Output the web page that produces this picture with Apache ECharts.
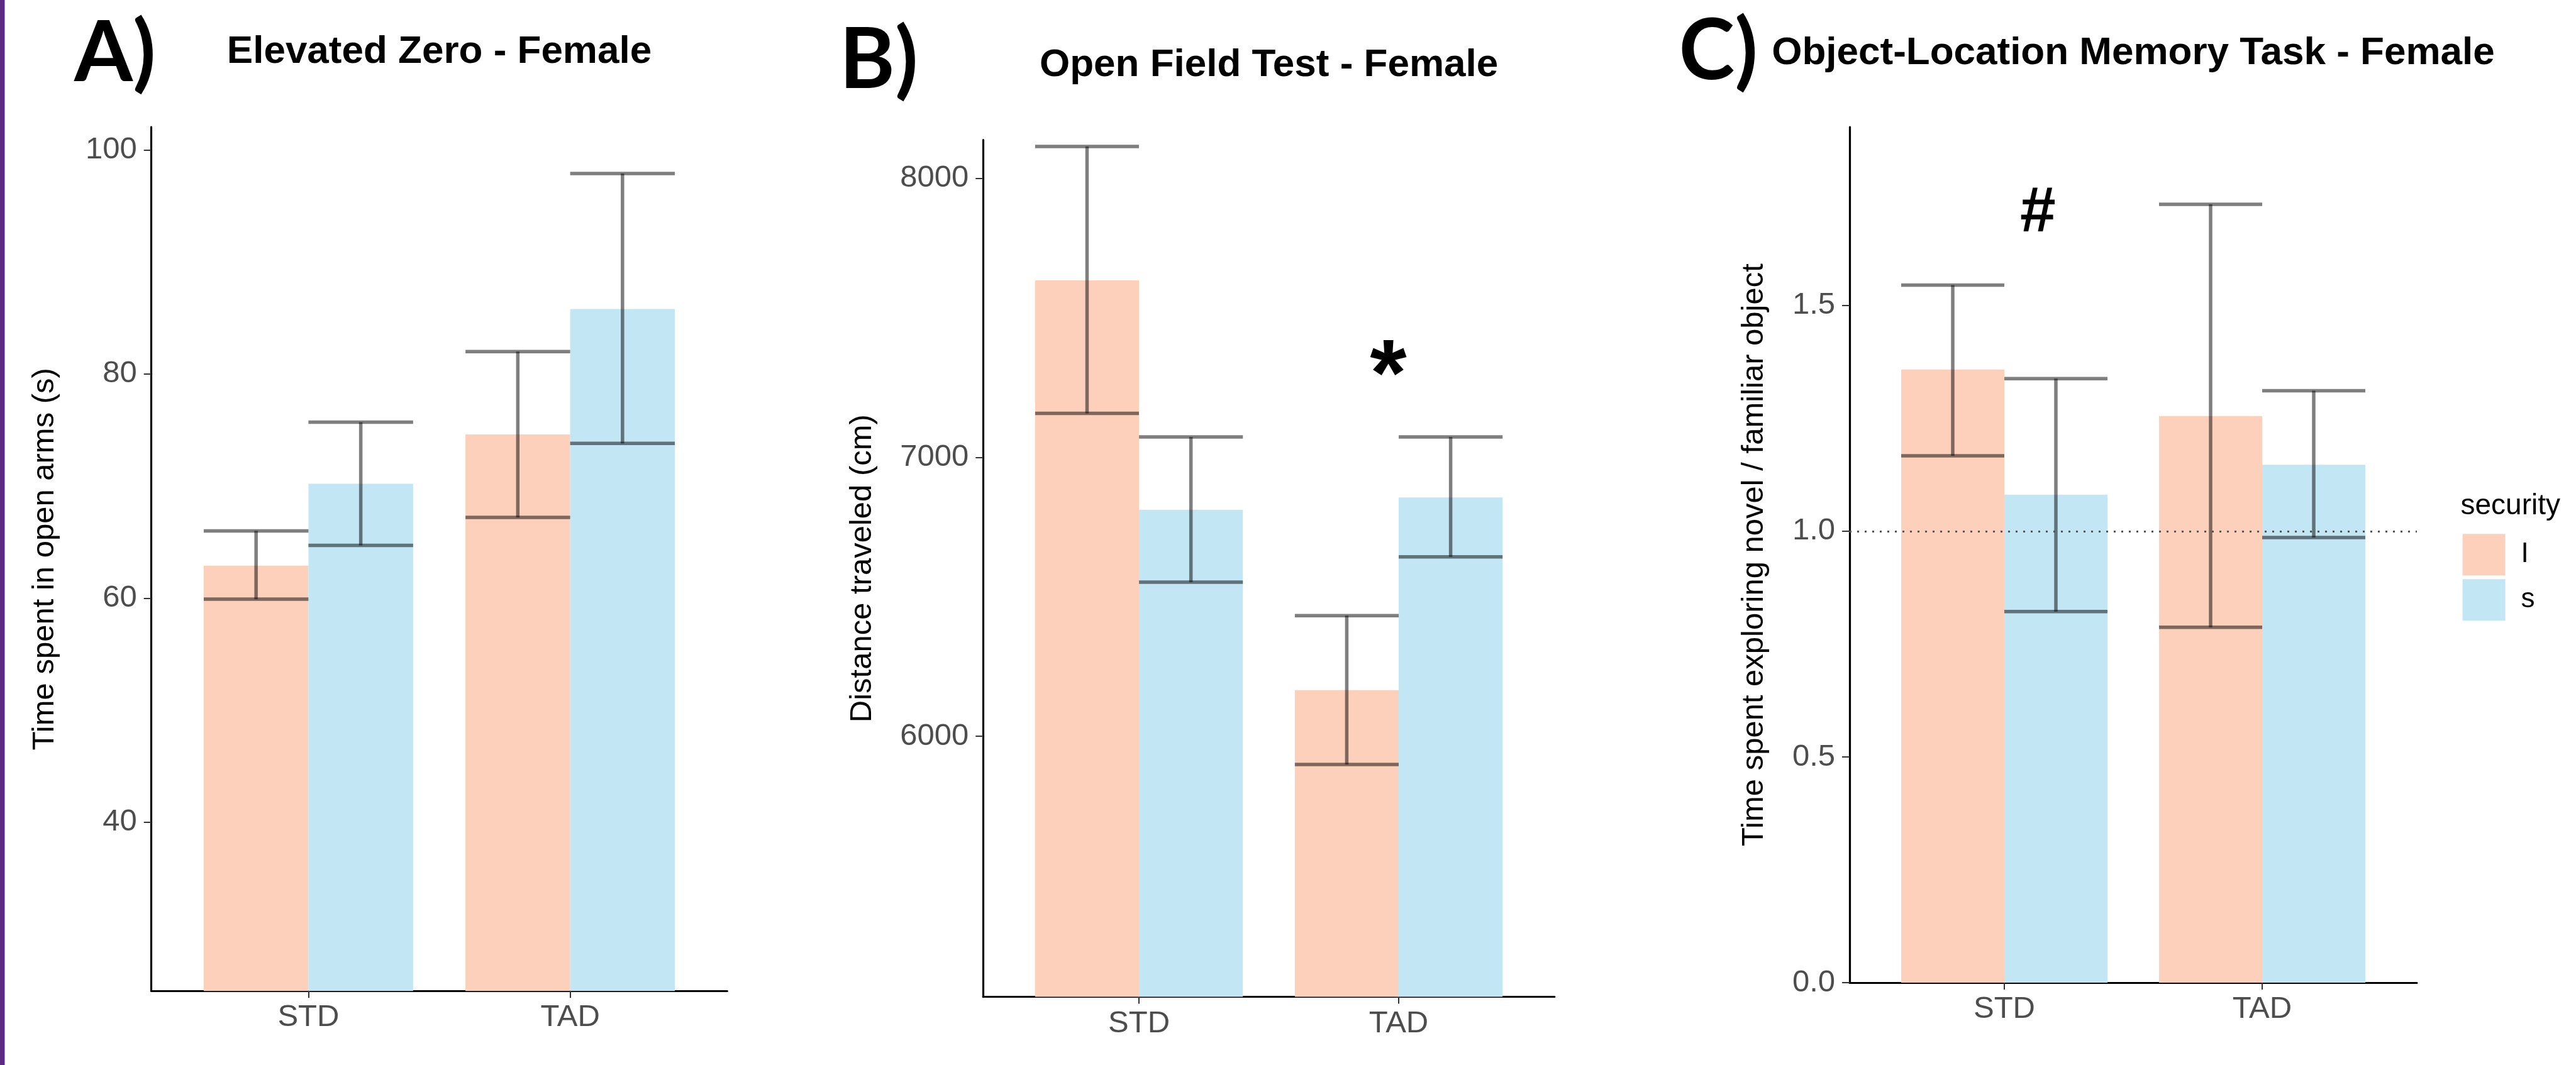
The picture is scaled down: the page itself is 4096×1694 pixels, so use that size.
<!DOCTYPE html>
<html>
<head>
<meta charset="utf-8">
<script src="https://cdn.jsdelivr.net/npm/echarts@6/dist/echarts.min.js"></script>
<style>html,body{margin:0;padding:0;background:#fff}#c{width:4096px;height:1694px}</style>
</head>
<body>
<div id="c"></div>
<script>
// ---------------- data ----------------
const categories = ['STD', 'TAD'];
const securityLevels = ['I', 's'];

// A) Elevated Zero - Female : time spent in open arms (s)
const ezMeanI = [62.9, 74.6];
const ezLowI  = [59.9, 67.2];
const ezHighI = [66.0, 82.0];
const ezMeanS = [70.2, 85.8];
const ezLowS  = [64.7, 73.8];
const ezHighS = [75.7, 97.9];
const ezTicks = [40, 60, 80, 100];

// B) Open Field Test - Female : distance traveled (cm)
const ofMeanI = [7634, 6165];
const ofLowI  = [7157, 5899];
const ofHighI = [8114, 6432];
const ofMeanS = [6812, 6856];
const ofLowS  = [6552, 6643];
const ofHighS = [7073, 7073];
const ofTicks = [6000, 7000, 8000];

// C) Object-Location Memory Task - Female : novel / familiar ratio
const olMeanI = [1.358, 1.255];
const olLowI  = [1.167, 0.787];
const olHighI = [1.545, 1.724];
const olMeanS = [1.081, 1.147];
const olLowS  = [0.822, 0.986];
const olHighS = [1.338, 1.311];
const olTicks = [0, 0.5, 1.0, 1.5];
const olReference = 1.0;

const panelLetters = ['A)', 'B)', 'C)'];
const panelTitles = ['Elevated Zero - Female', 'Open Field Test - Female', 'Object-Location Memory Task - Female'];
const yTitles = ['Time spent in open arms (s)', 'Distance traveled (cm)', 'Time spent exploring novel / familiar object'];
const legendTitle = 'security';

const annotations = [
  { panel: 1, text: '*', x: 1.96, y: 7352 },
  { panel: 2, text: '#', x: 1.13, y: 1.703 }
];

// ---------------- layout / style ----------------
const FONT = '"Liberation Sans", Arial, sans-serif';
const colorI = '#FDD0BC';
const colorS = '#C2E6F4';
const errColor = 'rgba(0,0,0,0.5)';
const DODGE = 0.2, HALF = 0.2;

const panels = [
  { mean: [ezMeanI, ezMeanS], low: [ezLowI, ezLowS], high: [ezHighI, ezHighS], ticks: ezTicks, dec: 0,
    yMin: 24.93, yMax: 102.04, grid: { left: 240.7, top: 202.1, width: 915.6, height: 1374.2 }, nameGap: 145,
    titleX: 698.5, titleTop: 51.6, letterX: 118, letterY: 86 },
  { mean: [ofMeanI, ofMeanS], low: [ofLowI, ofLowS], high: [ofHighI, ofHighS], ticks: ofTicks, dec: 0,
    yMin: 5066, yMax: 8137, grid: { left: 1563.3, top: 222.7, width: 908.5, height: 1362.9 }, nameGap: 167,
    titleX: 2017.6, titleTop: 73.2, letterX: 1334.8, letterY: 96.5 },
  { mean: [olMeanI, olMeanS], low: [olLowI, olLowS], high: [olHighI, olHighS], ticks: olTicks, dec: 1,
    yMin: 0, yMax: 1.895, grid: { left: 2941, top: 202.1, width: 902, height: 1361 }, nameGap: 127,
    titleX: 3392, titleTop: 53.5, letterX: 2669.6, letterY: 83 }
];

function rows(mean, low, high) {
  return categories.map((c, i) => [i + 1, mean[i], low[i], high[i]]);
}

function barRender(offset, color) {
  return function (params, api) {
    const c = api.value(0) + offset;
    const v = api.value(1);
    const p0 = api.coord([c - HALF, v]);
    const p1 = api.coord([c + HALF, v]);
    const cs = params.coordSys;
    const bottom = cs.y + cs.height;
    const base = Math.min(api.coord([c, 0])[1], bottom);
    return { type: 'rect', shape: { x: p0[0], y: p0[1], width: p1[0] - p0[0], height: base - p0[1] },
             style: { fill: color } };
  };
}

function errRender(offset) {
  return function (params, api) {
    const c = api.value(0) + offset;
    const lo = api.value(2), hi = api.value(3);
    const a = api.coord([c - HALF, hi]), b = api.coord([c + HALF, hi]);
    const m1 = api.coord([c, hi]), m2 = api.coord([c, lo]);
    const d = api.coord([c - HALF, lo]), e = api.coord([c + HALF, lo]);
    const st = { stroke: errColor, lineWidth: 5.5 };
    return { type: 'group', children: [
      { type: 'line', shape: { x1: a[0], y1: a[1], x2: b[0], y2: b[1] }, style: st },
      { type: 'line', shape: { x1: m1[0], y1: m1[1], x2: m2[0], y2: m2[1] }, style: st },
      { type: 'line', shape: { x1: d[0], y1: d[1], x2: e[0], y2: e[1] }, style: st }
    ] };
  };
}

const grids = [], xAxes = [], yAxes = [], series = [], titles = [], graphics = [];

panels.forEach((p, k) => {
  grids.push(Object.assign({ containLabel: false }, p.grid));
  xAxes.push({
    type: 'value', gridIndex: k, min: 0.4, max: 2.6,
    splitLine: { show: false },
    axisLine: { show: true, onZero: false, lineStyle: { color: '#000', width: 3.2 } },
    axisTick: { show: true, customValues: [1, 2], length: 11, lineStyle: { color: '#333', width: 2 } },
    axisLabel: { show: true, customValues: [1, 2], margin: 18, fontSize: 49, fontFamily: FONT, color: '#4d4d4d',
                 formatter: v => categories[Math.round(v) - 1] }
  });
  yAxes.push({
    type: 'value', gridIndex: k, min: p.yMin, max: p.yMax,
    splitLine: { show: false },
    axisLine: { show: true, onZero: false, lineStyle: { color: '#000', width: 3.2 } },
    axisTick: { show: true, customValues: p.ticks, length: 12, lineStyle: { color: '#333', width: 2 } },
    axisLabel: { show: true, customValues: p.ticks, margin: 23, fontSize: 49, fontFamily: FONT, color: '#4d4d4d',
                 formatter: v => Number(v).toFixed(p.dec) },
    name: yTitles[k], nameLocation: 'middle', nameGap: p.nameGap,
    nameTextStyle: { fontSize: 49, fontFamily: FONT, color: '#000' }
  });
  const colors = [colorI, colorS];
  const offsets = [-DODGE, DODGE];
  [0, 1].forEach(g => {
    series.push({
      type: 'custom', name: securityLevels[g], xAxisIndex: k, yAxisIndex: k, z: 2,
      itemStyle: { color: colors[g] }, silent: true,
      data: rows(p.mean[g], p.low[g], p.high[g]),
      renderItem: barRender(offsets[g], colors[g])
    });
  });
  [0, 1].forEach(g => {
    const s = {
      type: 'custom', name: securityLevels[g], xAxisIndex: k, yAxisIndex: k, z: 4,
      itemStyle: { color: colors[g] }, silent: true,
      data: rows(p.mean[g], p.low[g], p.high[g]),
      renderItem: errRender(offsets[g])
    };
    if (k === 2 && g === 0) {
      s.markLine = { silent: true, symbol: 'none', label: { show: false },
        lineStyle: { color: '#555', width: 3, type: [3, 9] },
        data: [{ yAxis: olReference }] };
    }
    series.push(s);
  });
  titles.push({
    text: panelTitles[k], left: p.titleX, top: p.titleTop, textAlign: 'center', textVerticalAlign: 'top', padding: 0,
    textStyle: { fontSize: 62, fontWeight: 'bold', fontFamily: FONT, color: '#000', lineHeight: 62 }
  });
  graphics.push({
    type: 'text', x: p.letterX, y: p.letterY, silent: true,
    style: { text: panelLetters[k], font: 'bold 134px Lato, "Open Sans", sans-serif', fill: '#000',
             align: 'left', verticalAlign: 'middle' }
  });
});

annotations.forEach(a => {
  const size = a.text === '*' ? 150 : 102;
  const dy = a.text === '*' ? 0.22 * size : 0;
  series.push({
    type: 'custom', name: 'annotation-' + a.text, xAxisIndex: a.panel, yAxisIndex: a.panel, z: 6, silent: true,
    data: [[a.x, a.y]],
    renderItem: function (params, api) {
      const pt = api.coord([api.value(0), api.value(1)]);
      return { type: 'text', x: pt[0], y: pt[1] + dy,
               style: { text: a.text, font: 'bold ' + size + 'px ' + FONT, fill: '#000', align: 'center', verticalAlign: 'middle' } };
    }
  });
});

// purple left border + legend title
graphics.push({ type: 'rect', shape: { x: 0, y: 0, width: 7.5, height: 1694 }, style: { fill: '#5a2d82' }, silent: true });
graphics.push({ type: 'text', x: 3912.5, y: 805.5, silent: true,
  style: { text: legendTitle, font: '46px ' + FONT, fill: '#000', align: 'left', verticalAlign: 'middle' } });

const chart = echarts.init(document.getElementById('c'), null, { renderer: 'canvas' });
chart.setOption({
  backgroundColor: '#fff',
  animation: false,
  title: titles,
  grid: grids,
  xAxis: xAxes,
  yAxis: yAxes,
  legend: {
    data: securityLevels, orient: 'vertical', left: 3915.6, top: 849.2, padding: 0,
    itemWidth: 68, itemHeight: 66, itemGap: 6, icon: 'rect', selectedMode: false,
    textStyle: { fontSize: 44, fontFamily: FONT, color: '#000', padding: [0, 0, 0, 20] }
  },
  graphic: graphics,
  series: series
});
</script>
</body>
</html>
